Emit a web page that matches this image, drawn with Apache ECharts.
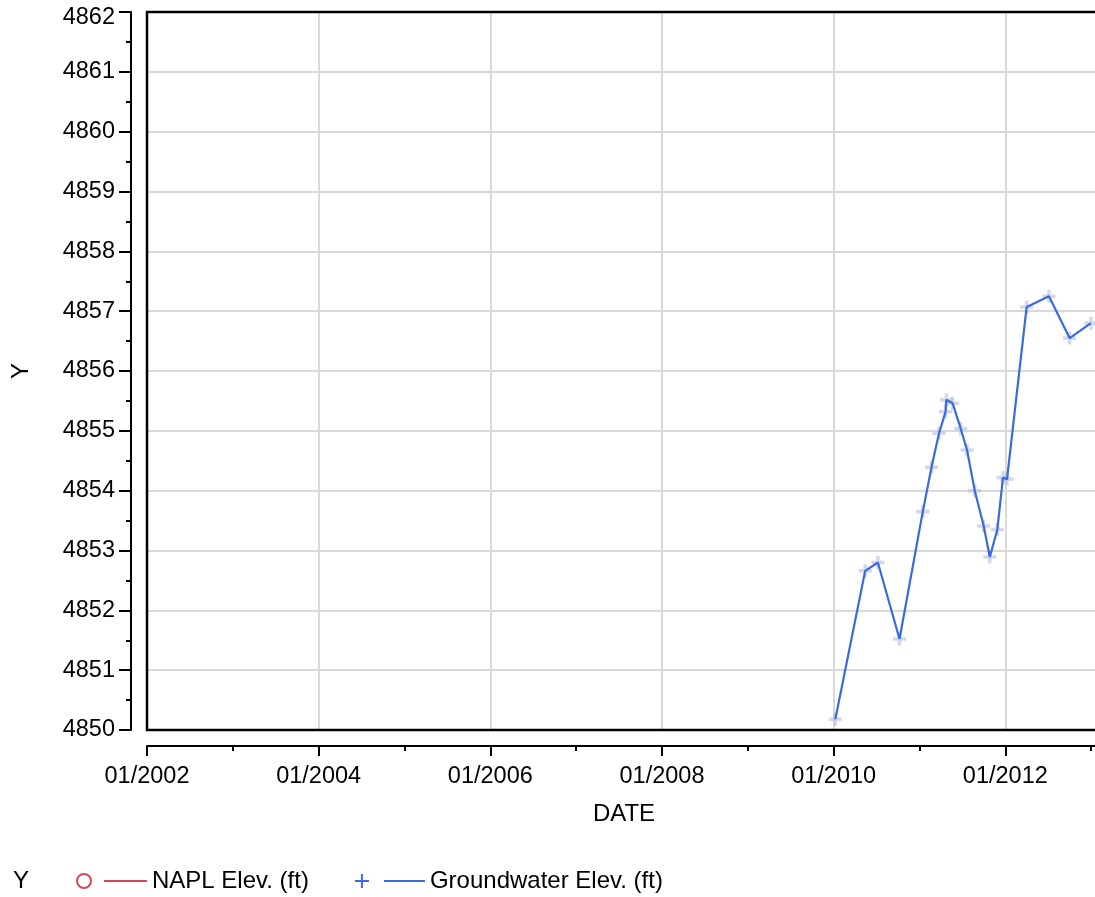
<!DOCTYPE html>
<html>
<head>
<meta charset="utf-8">
<style>
html,body{margin:0;padding:0;background:#fff;overflow:hidden;}
#chart{width:1095px;height:897px;}
</style>
<script src="https://cdn.jsdelivr.net/npm/echarts@6/dist/echarts.min.js"></script>
</head>
<body>
<div id="chart"></div>
<script>
// ---- data ----
const gwDates = ['2010-01-08','2010-05-15','2010-07-08','2010-10-08','2011-01-15','2011-02-21',
  '2011-03-25','2011-04-22','2011-04-25','2011-05-22','2011-06-25','2011-07-22','2011-08-24',
  '2011-10-01','2011-10-27','2011-11-28','2011-12-22','2012-01-08','2012-04-01','2012-07-05',
  '2012-10-01','2012-12-31'];
const gwValues = [4850.18,4852.66,4852.80,4851.52,4853.65,4854.39,
  4854.96,4855.32,4855.52,4855.46,4855.04,4854.68,4854.00,
  4853.41,4852.89,4853.35,4854.22,4854.19,4857.07,4857.25,
  4856.55,4856.80];
const naplDates = [];
const naplValues = [];
const xTickYears = [2002, 2004, 2006, 2008, 2010, 2012];
const yTicks = [4850, 4851, 4852, 4853, 4854, 4855, 4856, 4857, 4858, 4859, 4860, 4861, 4862];

function decYear(s) {
  const d = new Date(s + 'T00:00:00Z');
  const y = d.getUTCFullYear();
  const start = Date.UTC(y, 0, 1), end = Date.UTC(y + 1, 0, 1);
  return y + (d.getTime() - start) / (end - start);
}
const gwData = gwDates.map((d, i) => [decYear(d), gwValues[i]]);
const naplData = naplDates.map((d, i) => [decYear(d), naplValues[i]]);

const FONT = '"Liberation Sans", Arial, sans-serif';
const RED = '#d4485c';
const BLUE = '#3a6ae0';
const yMax = yTicks[yTicks.length - 1];

const chart = echarts.init(document.getElementById('chart'), null, {renderer: 'canvas'});
chart.setOption({
  animation: false,
  backgroundColor: '#fff',
  textStyle: {fontFamily: FONT},
  grid: {
    left: 147, top: 12, height: 718, width: 1030,
    outerBoundsMode: 'none', containLabel: false,
    show: true, borderColor: '#000', borderWidth: 2.5, backgroundColor: 'transparent', z: 3
  },
  xAxis: {
    type: 'value',
    min: xTickYears[0], max: 2014, interval: 2,
    offset: 16,
    name: 'DATE', nameLocation: 'middle', nameGap: 56,
    nameTextStyle: {fontSize: 24, color: '#000', fontFamily: FONT, padding: [0, 76, 0, 0]},
    axisLine: {onZero: false, lineStyle: {color: '#000', width: 2}},
    axisTick: {show: true, length: 10, lineStyle: {color: '#000', width: 2}},
    minorTick: {show: true, splitNumber: 2, length: 5, lineStyle: {color: '#000', width: 2}},
    axisLabel: {
      fontSize: 23.5, color: '#000', margin: 19, fontFamily: FONT, showMaxLabel: false,
      formatter: v => xTickYears.indexOf(v) >= 0 ? '01/' + v : ''
    },
    splitLine: {show: true, showMinLine: false, showMaxLine: false, lineStyle: {color: '#d9d9d9', width: 2}},
    minorSplitLine: {show: false}
  },
  yAxis: {
    type: 'value',
    min: yTicks[0], max: yMax, interval: 1,
    offset: 16,
    name: 'Y', nameLocation: 'middle', nameGap: 98,
    nameTextStyle: {fontSize: 24, color: '#000', fontFamily: FONT},
    axisLine: {show: true, onZero: false, lineStyle: {color: '#000', width: 2}},
    axisTick: {show: true, length: 12, lineStyle: {color: '#000', width: 2}},
    minorTick: {show: true, splitNumber: 2, length: 5, lineStyle: {color: '#000', width: 2}},
    axisLabel: {
      fontSize: 23.5, color: '#000', margin: 16, fontFamily: FONT,
      formatter: v => v === yMax ? '{top|' + v + '}' : String(v),
      rich: {top: {fontSize: 23.5, color: '#000', fontFamily: FONT, padding: [12, 0, 0, 0]}}
    },
    splitLine: {show: true, showMinLine: false, showMaxLine: false, lineStyle: {color: '#d9d9d9', width: 2}}
  },
  legend: {
    left: 76, top: 869, padding: 0, itemGap: 45,
    itemWidth: 70, itemHeight: 14,
    textStyle: {fontSize: 24, color: '#000', fontFamily: FONT},
    data: [
      {
        name: 'NAPL Elev. (ft)',
        icon: 'path://M0,7 A7,7 0 1,1 14,7 A7,7 0 1,1 0,7 Z M27,7 L70,7',
        itemStyle: {color: 'rgba(0,0,0,0)', borderColor: RED, borderWidth: 2}
      },
      {
        name: 'Groundwater Elev. (ft)',
        icon: 'path://M0,7 L14,7 M7,0 L7,14 M29,7 L70,7',
        itemStyle: {color: 'rgba(0,0,0,0)', borderColor: BLUE, borderWidth: 2}
      }
    ]
  },
  graphic: [
    {type: 'text', left: 13, top: 869, style: {text: 'Y', fontSize: 24, fill: '#000', font: '24px ' + FONT}}
  ],
  series: [
    {
      name: 'NAPL Elev. (ft)', type: 'line', data: naplData,
      color: RED, symbol: 'emptyCircle', symbolSize: 12,
      lineStyle: {color: RED, width: 2}, itemStyle: {color: RED}
    },
    {
      name: 'Groundwater Elev. (ft) markers', type: 'scatter', data: gwData,
      symbol: 'path://M4,0 H7 V4 H11 V7 H7 V11 H4 V7 H0 V4 H4 Z', symbolSize: 13,
      itemStyle: {color: 'rgba(175,186,215,0.7)'}, z: 2, silent: true, clip: true
    },
    {
      name: 'Groundwater Elev. (ft)', type: 'line', data: gwData,
      color: BLUE, showSymbol: false, symbol: 'none',
      lineStyle: {color: BLUE, width: 2.2}, itemStyle: {color: BLUE}, z: 3, clip: true
    }
  ]
});
</script>
</body>
</html>
